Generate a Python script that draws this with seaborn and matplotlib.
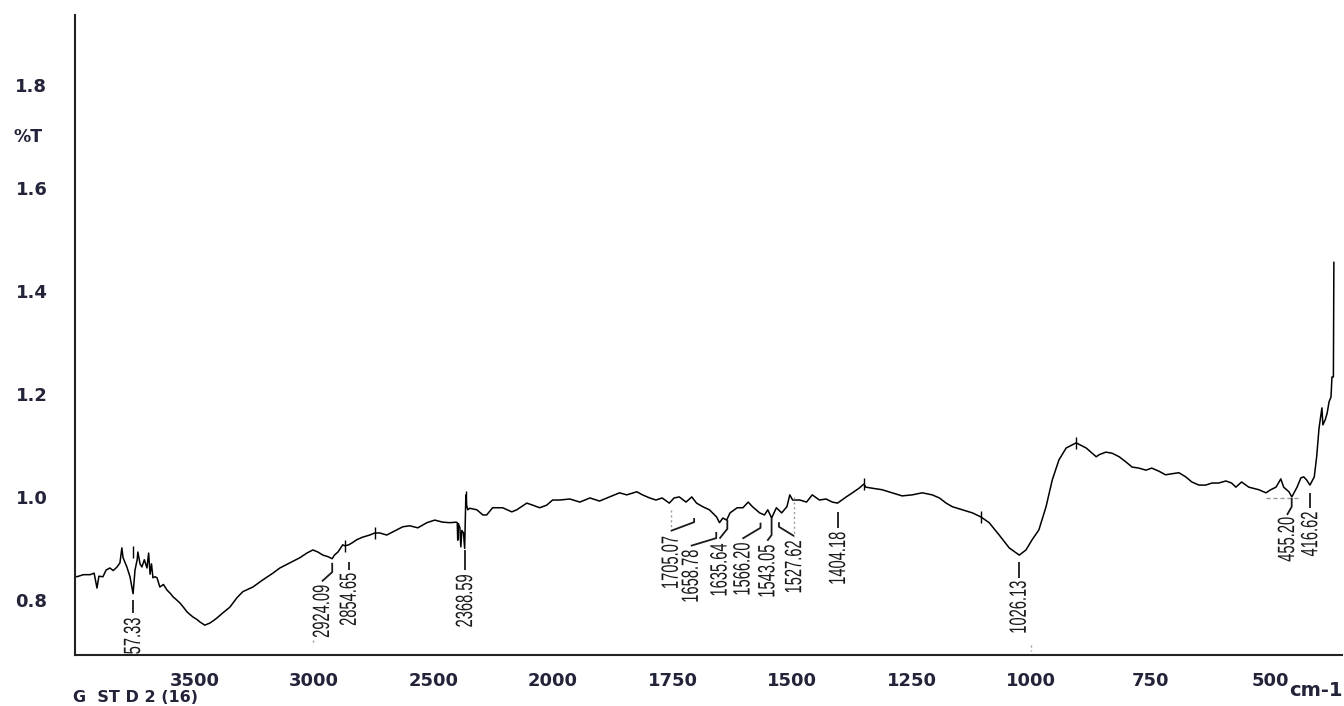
import numpy as np
import pandas as pd
import matplotlib
matplotlib.use("Agg")
import matplotlib.pyplot as plt
import matplotlib.font_manager as fm
from matplotlib.ticker import FixedLocator, MultipleLocator, FuncFormatter
from matplotlib.patheffects import AbstractPathEffect
from matplotlib.transforms import Affine2D
import seaborn as sns

# ---------------- data ----------------
wavenumber = [4000, 3992, 3965, 3937, 3920, 3908, 3900, 3883, 3870, 3854, 3840, 3824, 3812, 3804,
              3799, 3790, 3783, 3770, 3757, 3749, 3740, 3737, 3728, 3720, 3710, 3699, 3692, 3686,
              3680, 3674, 3665, 3657, 3645, 3630, 3615, 3600, 3590, 3575, 3561, 3545, 3532, 3520,
              3507, 3490, 3477, 3457, 3436, 3420, 3406, 3381, 3352, 3323, 3298, 3256, 3214, 3172,
              3143, 3101, 3059, 3030, 3005, 2984, 2963, 2942, 2924, 2915, 2900, 2880, 2871, 2855,
              2840, 2821, 2796, 2767, 2746, 2725, 2696, 2671, 2629, 2600, 2566, 2528, 2495, 2462,
              2432, 2405, 2401, 2399, 2396, 2390, 2386, 2382, 2375, 2370, 2367, 2365, 2362, 2357,
              2349, 2319, 2294, 2278, 2253, 2211, 2173, 2152, 2110, 2085, 2056, 2027, 2002, 1986,
              1965, 1944, 1923, 1903, 1882, 1861, 1846, 1825, 1813, 1798, 1785, 1772, 1757, 1747,
              1736, 1722, 1710, 1700, 1687, 1673, 1658, 1652, 1645, 1637, 1630, 1615, 1603, 1592,
              1583, 1568, 1558, 1551, 1543, 1533, 1522, 1511, 1505, 1499, 1484, 1470, 1458, 1443,
              1429, 1416, 1405, 1387, 1374, 1360, 1350, 1346, 1333, 1312, 1291, 1270, 1249, 1228,
              1207, 1192, 1178, 1165, 1144, 1123, 1105, 1088, 1067, 1046, 1025, 1011, 998, 984,
              969, 956, 942, 927, 906, 885, 864, 858, 844, 831, 816, 802, 789, 775, 760, 748, 733,
              719, 706, 691, 677, 664, 649, 635, 622, 608, 593, 581, 572, 560, 545, 524, 509, 499,
              488, 478, 472, 461, 455, 444, 436, 430, 424, 417, 408, 403, 398, 392, 390, 385, 381,
              377, 373, 371, 368, 367]
transmittance = [0.846, 0.845, 0.849, 0.849, 0.852, 0.823, 0.846, 0.845, 0.858, 0.862, 0.857, 0.864,
                 0.872, 0.901, 0.882, 0.872, 0.864, 0.845, 0.812, 0.858, 0.878, 0.893, 0.870, 0.864,
                 0.878, 0.862, 0.891, 0.850, 0.870, 0.843, 0.845, 0.843, 0.825, 0.830, 0.819, 0.812,
                 0.806, 0.800, 0.794, 0.785, 0.777, 0.772, 0.767, 0.762, 0.757, 0.751, 0.755, 0.760,
                 0.765, 0.775, 0.786, 0.804, 0.816, 0.825, 0.839, 0.852, 0.862, 0.872, 0.882, 0.891,
                 0.897, 0.893, 0.887, 0.884, 0.880, 0.887, 0.893, 0.907, 0.905, 0.907, 0.911, 0.917,
                 0.922, 0.926, 0.930, 0.930, 0.926, 0.932, 0.942, 0.944, 0.940, 0.950, 0.955, 0.951,
                 0.950, 0.951, 0.950, 0.916, 0.948, 0.940, 0.903, 0.935, 0.930, 0.900, 0.960, 1.004,
                 0.985, 0.975, 0.978, 0.975, 0.965, 0.965, 0.979, 0.979, 0.971, 0.975, 0.988, 0.984,
                 0.979, 0.984, 0.994, 0.994, 0.996, 0.990, 0.998, 0.992, 1.000, 1.008, 1.004, 1.010,
                 1.004, 0.998, 0.994, 0.998, 0.988, 0.998, 1.000, 0.990, 1.000, 0.988, 0.981, 0.975,
                 0.961, 0.950, 0.959, 0.955, 0.969, 0.979, 0.979, 0.990, 0.981, 0.969, 0.965, 0.975,
                 0.959, 0.979, 0.969, 0.981, 1.004, 0.994, 0.994, 0.990, 1.004, 0.994, 0.996, 0.990,
                 0.988, 1.000, 1.008, 1.017, 1.025, 1.019, 1.017, 1.014, 1.008, 1.002, 1.004, 1.008,
                 1.004, 0.998, 0.988, 0.981, 0.975, 0.969, 0.961, 0.950, 0.926, 0.901, 0.887, 0.897,
                 0.917, 0.936, 0.981, 1.033, 1.072, 1.095, 1.105, 1.095, 1.078, 1.082, 1.087, 1.085,
                 1.078, 1.068, 1.058, 1.056, 1.052, 1.056, 1.050, 1.043, 1.045, 1.047, 1.039, 1.029,
                 1.023, 1.023, 1.027, 1.027, 1.031, 1.027, 1.019, 1.029, 1.019, 1.014, 1.008, 1.014,
                 1.019, 1.035, 1.019, 1.010, 1.000, 1.019, 1.037, 1.039, 1.033, 1.023, 1.039, 1.078,
                 1.134, 1.173, 1.140, 1.150, 1.163, 1.185, 1.194, 1.233, 1.233, 1.456]

peak_labels = ["3757.33", "2924.09", "2854.65", "2368.59", "1705.07", "1658.78", "1635.64",
               "1566.20", "1543.05", "1527.62", "1404.18", "1026.13", "455.20", "416.62"]
peak_wn = [3757.33, 2924.09, 2854.65, 2368.59, 1705.07, 1658.78, 1635.64,
           1566.20, 1543.05, 1527.62, 1404.18, 1026.13, 455.20, 416.62]
label_wn = [3757.33, 2967, 2854.65, 2368.59, 1754, 1712, 1652,
            1604, 1552, 1496, 1404.18, 1026.13, 465, 416.62]
leader_start = [0.800, 0.872, 0.874, 0.897, 0.959, 0.932, 0.955, 0.950, 0.959, 0.951, 0.971, 0.874, 0.998, 1.008]
leader_knee = [0.800, 0.854, 0.874, 0.897, 0.951, 0.920, 0.938, 0.940, 0.926, 0.942, 0.971, 0.874, 0.981, 1.008]
leader_bend = [0.775, 0.836, 0.858, 0.858, 0.934, 0.905, 0.919, 0.919, 0.915, 0.924, 0.940, 0.843, 0.965, 0.979]
label_top = [0.765, 0.829, 0.852, 0.849, 0.924, 0.897, 0.909, 0.911, 0.907, 0.915, 0.932, 0.837, 0.961, 0.971]

tick_wn = [3757.33, 2871, 2746, 2363, 1350, 1105, 906]
tick_T = [0.893, 0.905, 0.930, 1.000, 1.025, 0.961, 1.105]

x_major = [3500, 3000, 2500, 2000, 1750, 1500, 1250, 1000, 750, 500]
y_major = [0.8, 1.0, 1.2, 1.4, 1.6, 1.8]

# ---------------- figure ----------------
sns.set_style("white")
plt.rcParams["font.family"] = ["DejaVu Sans"]

fig = plt.figure(figsize=(13.44, 7.06), dpi=100)
ax = fig.add_axes([75 / 1344, 51 / 706, 1267 / 1344, 640 / 706])

df = pd.DataFrame({"wavenumber": wavenumber, "T": transmittance})
sns.lineplot(data=df, x="wavenumber", y="T", sort=False, estimator=None,
             color="black", linewidth=1.1, ax=ax)
ax.plot(tick_wn, tick_T, linestyle="none", marker="|", markersize=9,
        markeredgewidth=1.0, color="black")


def fwd(x):
    x = np.asarray(x, dtype=float)
    return np.where(x > 2000, 2000 + (x - 2000) / 2.0, x)


def inv(u):
    u = np.asarray(u, dtype=float)
    return np.where(u > 2000, 2000 + (u - 2000) * 2.0, u)


ax.set_xscale("function", functions=(fwd, inv))
ax.set_xlim(4000, 350)
ax.set_ylim(0.693, 1.936)
ax.set_xlabel("")
ax.set_ylabel("")

x_minor = [v for v in list(range(3900, 2000, -100)) + list(range(1950, 349, -50)) if v not in x_major]
ax.xaxis.set_major_locator(FixedLocator(x_major))
ax.xaxis.set_minor_locator(FixedLocator(x_minor))
ax.xaxis.set_major_formatter(FuncFormatter(lambda v, p: f"{v:.0f}"))
ax.yaxis.set_major_locator(FixedLocator(y_major))
ax.yaxis.set_minor_locator(MultipleLocator(0.04))
ax.yaxis.set_major_formatter(FuncFormatter(lambda v, p: f"{v:.1f}"))

for s in ["top", "right"]:
    ax.spines[s].set_visible(False)
for s in ["left", "bottom"]:
    ax.spines[s].set_linewidth(1.5)
    ax.spines[s].set_color("#222222")

lab_col = "#23233a"
ax.tick_params(axis="x", which="major", direction="out", length=9.4, width=1.5,
               color="#222222", pad=3.0, labelsize=13, labelcolor=lab_col)
ax.tick_params(axis="x", which="minor", direction="out", length=5, width=1.5, color="#222222")
ax.tick_params(axis="y", which="major", direction="out", length=14.4, width=1.5,
               color="#222222", pad=5.5, labelsize=13, labelcolor=lab_col)
ax.tick_params(axis="y", which="minor", direction="out", length=5.8, width=1.5, color="#222222")
for lab in ax.get_xticklabels() + ax.get_yticklabels():
    lab.set_fontweight("bold")

# gray dotted marks
ax.plot([1754, 1754], [0.975, 0.942], color="#9a9a9a", lw=1.0, ls=(0, (1.5, 2)))
ax.plot([1496, 1496], [1.000, 0.922], color="#9a9a9a", lw=1.0, ls=(0, (1.5, 2)))
ax.plot([508, 441], [0.998, 0.998], color="#9a9a9a", lw=1.0, ls=(0, (3, 2)))
ax.plot([3005, 3005], [0.722, 0.712], color="#9a9a9a", lw=1.0, ls=(0, (1.5, 2)))
ax.plot([1000, 1000], [0.712, 0.700], color="#9a9a9a", lw=1.0, ls=(0, (1.5, 2)))


# peak labels: condensed look (tall glyphs) via a path effect on real text
class GlyphStretch(AbstractPathEffect):
    def __init__(self, sy):
        super().__init__()
        self.sy = sy

    def draw_path(self, renderer, gc, tpath, affine, rgbFace=None):
        ext = tpath.get_extents()
        cy = 0.5 * (ext.y0 + ext.y1)
        pre = Affine2D().translate(0, -cy).scale(1.0, self.sy).translate(0, cy)
        renderer.draw_path(gc, tpath, pre + affine, rgbFace)


def has_font(name):
    try:
        fm.findfont(fm.FontProperties(family=name), fallback_to_default=False)
        return True
    except Exception:
        return False


peak_family = next(f for f in ["Liberation Sans", "DejaVu Sans"] if has_font(f))
renderer = fig.canvas.get_renderer()
probe = fig.text(0, 0, "1026.13", fontsize=10, family=peak_family)
w = probe.get_window_extent(renderer=renderer).width
probe.remove()
peak_size = 10 * 53.0 / w
digit_h = 0.72 * peak_size * 100 / 72.0
stretch = GlyphStretch(17.0 / digit_h)

for lab, p, l, s0, k, b, t in zip(peak_labels, peak_wn, label_wn, leader_start,
                                   leader_knee, leader_bend, label_top):
    ax.plot([p, p, l], [s0, k, b], color="#1a1a1a", lw=1.3, solid_capstyle="butt")
    ax.text(l, t, lab, rotation=90, ha="center", va="top", fontsize=peak_size,
            family=peak_family, color="#1a1a1a", clip_on=True, path_effects=[stretch])

# free texts
fig.text(13 / 1344, 1 - 137 / 706, "%T", ha="left", va="center", fontsize=12.5,
         fontweight="bold", color=lab_col)
fig.text(73 / 1344, 0.5 / 706, "G  ST D 2 (16)", ha="left", va="bottom", fontsize=11.5,
         fontweight="bold", color=lab_col)
fig.text(1343 / 1344, 1 - 690 / 706, "cm-1", ha="right", va="center", fontsize=14,
         fontweight="bold", color=lab_col)

fig.savefig("out.png", dpi=100)
